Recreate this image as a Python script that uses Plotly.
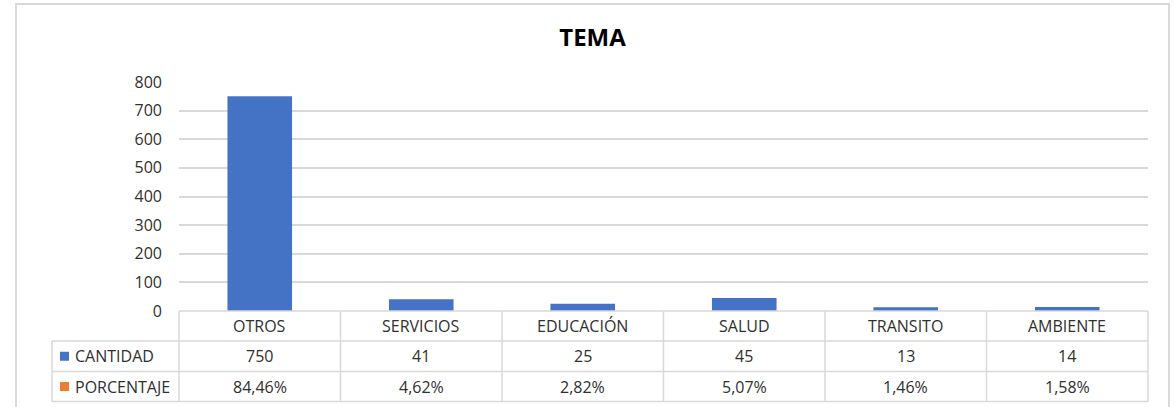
import plotly.graph_objects as go

categories = ["OTROS", "SERVICIOS", "EDUCACIÓN", "SALUD", "TRANSITO", "AMBIENTE"]
cantidad = [750, 41, 25, 45, 13, 14]
porcentaje = ["84,46%", "4,62%", "2,82%", "5,07%", "1,46%", "1,58%"]
cantidad_labels = [str(v) for v in cantidad]
series_names = ["CANTIDAD", "PORCENTAJE"]
series_colors = ["#4472C4", "#ED7D31"]
title_text = "TEMA"
y_ticks = [0, 100, 200, 300, 400, 500, 600, 700, 800]

W, H = 1174, 407
L, R, T, B = 179, 26, 82, 96
plot_w = W - L - R
plot_h = H - T - B
y0_px = H - B  # pixel row of y=0


def py(px):
    """pixel row -> paper y"""
    return (y0_px - px) / plot_h


def px_x(px):
    """pixel col -> paper x"""
    return (px - L) / plot_w


GRID = "#D9D9D9"
TXT = "#303030"
FONT = "Open Sans"

fig = go.Figure()
fig.add_trace(go.Bar(
    x=categories, y=cantidad, name=series_names[0],
    marker=dict(color=series_colors[0], line=dict(width=0)),
    width=0.4, hoverinfo="x+y",
))

n = len(categories)
shapes = []
annotations = []

# table row boundaries (pixels)
row_header_top, row1_top, row2_top, row_bottom = 311, 341, 371.5, 401.5
legend_left = px_x(52)

line = dict(color=GRID, width=1.5)
# horizontal lines
shapes.append(dict(type="line", xref="paper", yref="paper", x0=0, x1=1,
                   y0=py(row_header_top), y1=py(row_header_top), line=line))
for r in (row1_top, row2_top, row_bottom):
    shapes.append(dict(type="line", xref="paper", yref="paper", x0=legend_left, x1=1,
                       y0=py(r), y1=py(r), line=line))
# vertical lines
for k in range(n + 1):
    xk = k / n
    shapes.append(dict(type="line", xref="paper", yref="paper", x0=xk, x1=xk,
                       y0=py(row_header_top), y1=py(row_bottom), line=line))
shapes.append(dict(type="line", xref="paper", yref="paper", x0=legend_left, x1=legend_left,
                   y0=py(row1_top), y1=py(row_bottom), line=line))

# outer chart border
shapes.append(dict(type="rect", xref="paper", yref="paper",
                   x0=px_x(16), x1=px_x(1169), y0=py(412), y1=py(4),
                   line=dict(color=GRID, width=2), fillcolor="rgba(0,0,0,0)", layer="below"))

row_centers = [(row_header_top + row1_top) / 2, (row1_top + row2_top) / 2, (row2_top + row_bottom) / 2]
tfont = dict(family=FONT, size=16, color=TXT)

for i, c in enumerate(categories):
    annotations.append(dict(x=c, xref="x", y=py(row_centers[0]), yref="paper", text=c,
                            showarrow=False, font=tfont, xanchor="center", yanchor="middle"))
    annotations.append(dict(x=c, xref="x", y=py(row_centers[1]), yref="paper", text=cantidad_labels[i],
                            showarrow=False, font=tfont, xanchor="center", yanchor="middle"))
    annotations.append(dict(x=c, xref="x", y=py(row_centers[2]), yref="paper", text=porcentaje[i],
                            showarrow=False, font=tfont, xanchor="center", yanchor="middle"))

# legend keys in table
for j, (nm, col) in enumerate(zip(series_names, series_colors)):
    rc = row_centers[j + 1]
    shapes.append(dict(type="rect", xref="paper", yref="paper",
                       x0=px_x(60), x1=px_x(69), y0=py(rc + 4.5), y1=py(rc - 4.5),
                       fillcolor=col, line=dict(width=0)))
    annotations.append(dict(x=px_x(73), xref="paper", y=py(rc), yref="paper", text=nm,
                            showarrow=False, font=tfont, xanchor="left", yanchor="middle"))

fig.update_layout(
    width=W, height=H,
    margin=dict(l=L, r=R, t=T, b=B, pad=0),
    paper_bgcolor="white", plot_bgcolor="white",
    showlegend=False,
    title=dict(text="<b>" + title_text + "</b>", x=592.5 / W, xanchor="center",
               y=1 - 38 / H, yanchor="middle", yref="container",
               font=dict(family=FONT, size=24, color="#000000")),
    xaxis=dict(showticklabels=False, showgrid=False, zeroline=False, showline=False,
               range=[-0.5, n - 0.5], fixedrange=True),
    yaxis=dict(range=[0, 800], tickvals=y_ticks, showgrid=True, gridcolor=GRID, gridwidth=1.5,
               zeroline=False, showline=False, ticks="", ticklabelstandoff=16,
               tickfont=dict(family=FONT, size=16, color=TXT), fixedrange=True),
    shapes=shapes,
    annotations=annotations,
    bargap=0.6,
)

fig.write_html("out.html")
